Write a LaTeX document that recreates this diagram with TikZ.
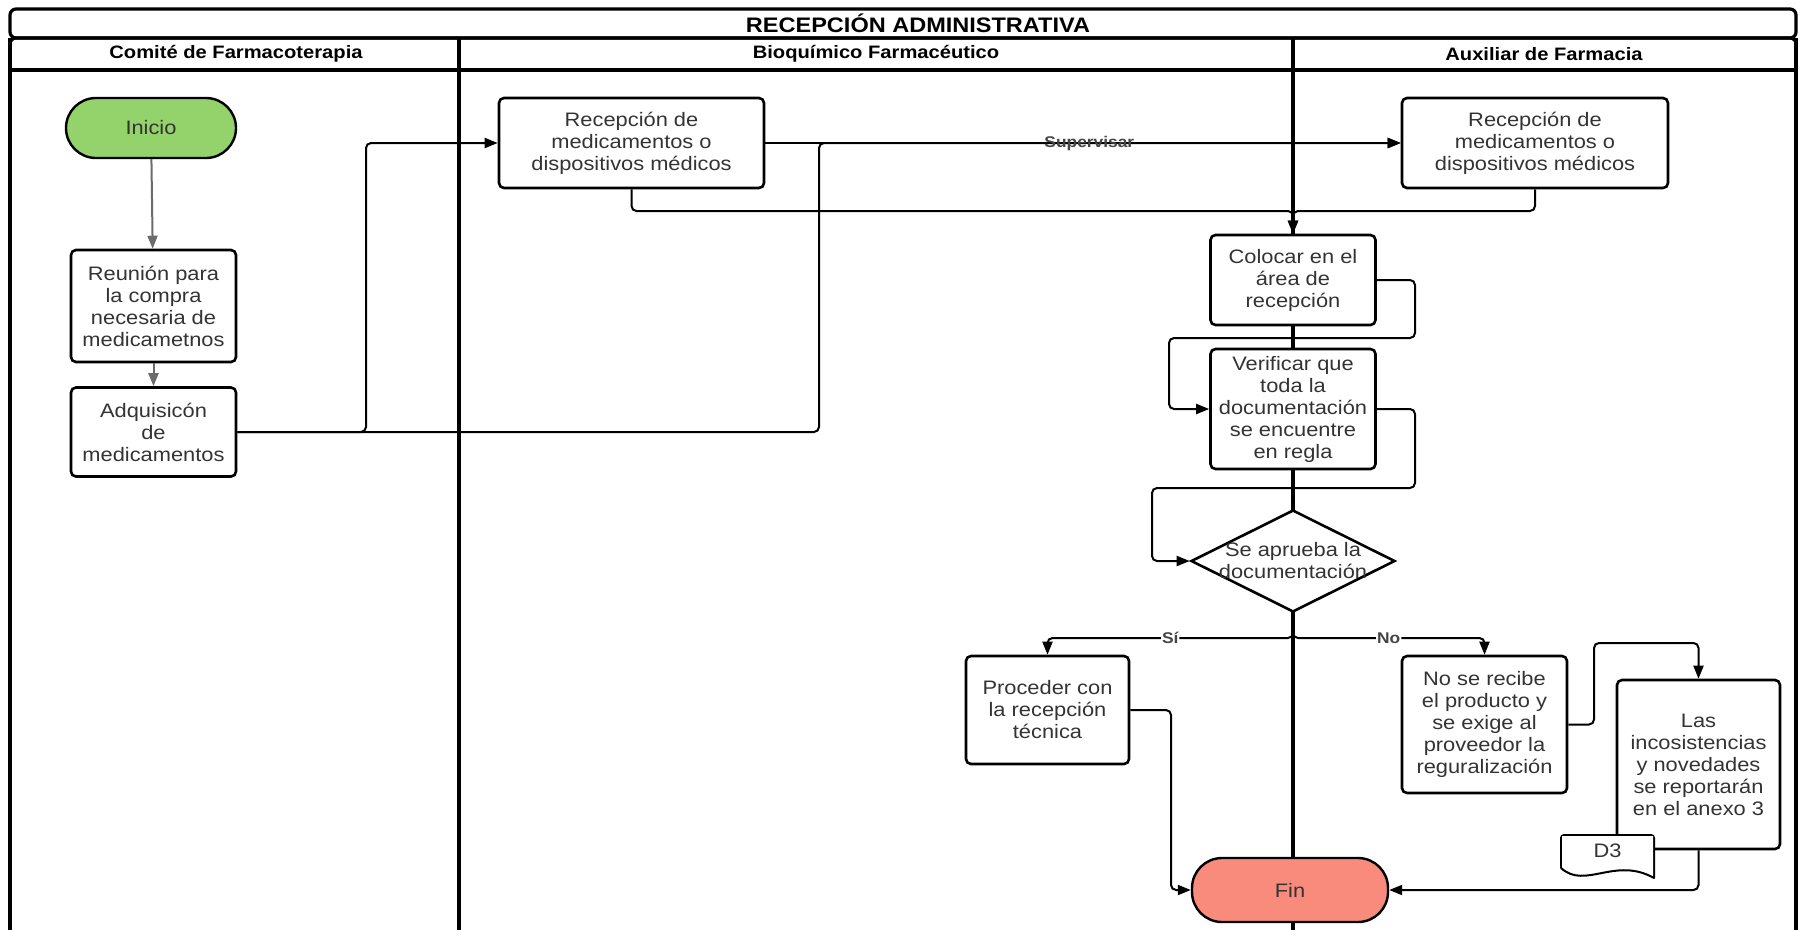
\documentclass[tikz,border=0pt]{standalone}
\usepackage{fontspec}
\setmainfont{Liberation Sans}[FakeStretch=1.12]
\usetikzlibrary{arrows.meta,shapes.geometric}

\definecolor{startgreen}{HTML}{94D26B}
\definecolor{endsalmon}{HTML}{F98B7D}
\definecolor{txtgray}{HTML}{333333}
\definecolor{arrowgray}{HTML}{6B6B6B}
\definecolor{lblgray}{HTML}{444444}

\newcommand\boxfont{\fontsize{19.5}{22}\selectfont}
\newcommand\titlefont{\fontsize{21}{24}\selectfont\bfseries}
\newcommand\headfont{\fontsize{18}{20}\selectfont\bfseries}
\newcommand\lblfont{\fontsize{15.5}{17}\selectfont\bfseries}

\begin{document}
\begin{tikzpicture}[x=1pt,y=-1pt,
  lane/.style={line width=3.2pt, draw=black},
  box/.style={draw=black, line width=2.6pt, rounded corners=5pt, fill=white,
    align=center, text=txtgray, inner sep=0pt, font=\boxfont},
  term/.style={box, rounded corners=30pt, line width=2.4pt},
  flow/.style={line width=2pt, rounded corners=5pt, -{Triangle[length=13pt,width=10pt]}},
  gflow/.style={flow, draw=arrowgray, color=arrowgray},
  lbl/.style={font=\lblfont, text=lblgray, inner sep=1pt},
  lblw/.style={lbl, fill=white}
]
\useasboundingbox (0,0) rectangle (1807,930);

% swimlane frame
\draw[lane, rounded corners=6pt] (10,9) rectangle (1796,38);
\draw[lane, rounded corners=6pt] (10,70) -- (10,38) -- (1796,38) -- (1796,70);
\draw[lane] (10,70) -- (1796,70);
\draw[lane] (10,38) -- (10,930);
\draw[lane] (1796,38) -- (1796,930);
\draw[lane] (459,38) -- (459,930);
\draw[lane] (1293,38) -- (1293,930);

\node[font=\titlefont] (title) at (918,23.5) {RECEPCIÓN ADMINISTRATIVA};
\node[font=\headfont] (hcomite) at (236,54) {Comité de Farmacoterapia};
\node[font=\headfont] (hbioq) at (876,54) {Bioquímico Farmacéutico};
\node[font=\headfont] (haux) at (1544,54) {Auxiliar de Farmacia};

% process nodes
\node[term, fill=startgreen, minimum width=170pt, minimum height=60pt] (inicio) at (151,128) {Inicio};
\node[box, minimum width=165pt, minimum height=112pt] (reunion) at (153.5,306)
  {Reunión para\\la compra\\necesaria de\\medicametnos};
\node[box, minimum width=165pt, minimum height=89pt] (adq) at (153.5,432)
  {Adquisicón\\de\\medicamentos};
\node[box, minimum width=265pt, minimum height=90pt] (recB) at (631.5,143)
  {Recepción de\\medicamentos o\\dispositivos médicos};
\node[box, minimum width=266pt, minimum height=90pt] (recA) at (1535,143)
  {Recepción de\\medicamentos o\\dispositivos médicos};
\node[box, minimum width=165pt, minimum height=90pt] (colocar) at (1293,280)
  {Colocar en el\\área de\\recepción};
\node[box, minimum width=165pt, minimum height=120pt] (verif) at (1293,409)
  {Verificar que\\toda la\\documentación\\se encuentre\\en regla};
\node[diamond, draw=black, line width=2.6pt, fill=white, inner sep=0pt,
  minimum width=204pt, minimum height=102pt] (dia) at (1293,561) {};
\node[align=center, text=txtgray, font=\boxfont] (diatext) at (1293,561)
  {Se aprueba la\\documentación};
\node[box, minimum width=163pt, minimum height=108pt] (proc) at (1047.5,710)
  {Proceder con\\la recepción\\técnica};
\node[box, minimum width=165pt, minimum height=137pt] (norec) at (1484.5,724.5)
  {No se recibe\\el producto y\\se exige al\\proveedor la\\reguralización};
\node[box, minimum width=163pt, minimum height=169pt] (las) at (1698.5,764.5)
  {Las\\incosistencias\\y novedades\\se reportarán\\en el anexo 3};
\node[term, fill=endsalmon, minimum width=196pt, minimum height=64pt] (fin) at (1290,890) {Fin};

% document symbol
\draw[line width=2pt, fill=white, rounded corners=3pt]
  (1561,868) -- (1561,835) -- (1654,835) -- (1654,878);
\fill[white] (1562,868) .. controls (1585,890) and (1615,856) .. (1653,878) -- (1653,836) -- (1562,836) -- cycle;
\draw[line width=2pt, line cap=round]
  (1561,868) .. controls (1585,890) and (1615,856) .. (1654,878);
\node[font=\boxfont, text=txtgray] (d3) at (1607.5,851) {D3};

% connectors
\draw[gflow] (inicio) -- (reunion);
\draw[gflow] (reunion) -- (adq);
\draw[flow] (adq.east) -| (366,143) -- (recB.west);
\draw[flow] (adq.east) -| (819,143) -- (recA.west);
\draw[flow] (recB.east) -- node[lbl, pos=0.51] {Supervisar} (recA.west);
\draw[flow] (recB.south) |- (1293,211) -- (colocar.north);
\draw[flow] (recA.south) |- (1293,211) -- (colocar.north);
\draw[flow] (colocar.east) -| (1415,338) -| (1169,409) -- (verif.west);
\draw[flow] (verif.east) -| (1415,488) -| (1152,561) -- (dia.west);
\draw[flow] (dia.south) -- (1293,638) -| node[lblw, pos=0.25] {Sí} (proc.north);
\draw[flow] (dia.south) -- (1293,638) -| node[lblw, pos=0.25] {No} (norec.north);
\draw[flow] (proc.east) -| (1171,890) -- (fin.west);
\draw[flow] (norec.east) -| (1594,643) -| (las.north);
\draw[flow] (las.south) |- (fin.east);
\end{tikzpicture}
\end{document}
